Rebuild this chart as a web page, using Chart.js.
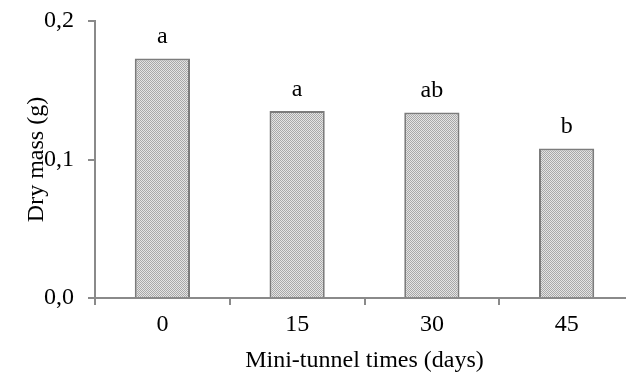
<!DOCTYPE html>
<html>
<head>
<meta charset="utf-8">
<script src="https://cdn.jsdelivr.net/npm/chart.js@4"></script>
<style>
  html, body { margin: 0; padding: 0; background: #fff; overflow: hidden; }
  #wrap { width: 640px; height: 376px; position: relative; }
</style>
</head>
<body>
<div id="wrap"><canvas id="grafik"></canvas></div>
<script>
const kategori = ['0', '15', '30', '45'];
const massaKering = [0.173, 0.135, 0.134, 0.108];
const hurufBeda = ['a', 'a', 'ab', 'b'];
const tickY = [0, 0.1, 0.2];

const warnaSumbu = '#8a8a8a';
const hurufSerif = '"Liberation Serif", "Times New Roman", serif';

// pola titik-titik abu untuk isi batang
function buatPola() {
    const c = document.createElement('canvas');
    c.width = 2; c.height = 2;
    const g = c.getContext('2d');
    g.fillStyle = '#e4e4e4';
    g.fillRect(0, 0, 2, 2);
    g.fillStyle = '#a8a8a8';
    g.fillRect(0, 0, 1, 1);
    g.fillRect(1, 1, 1, 1);
    return g.createPattern(c, 'repeat');
}

const labelHuruf = {
    id: 'labelHuruf',
    afterDatasetsDraw(chart) {
        const ctx = chart.ctx;
        const meta = chart.getDatasetMeta(0);
        ctx.save();
        ctx.fillStyle = '#000';
        ctx.font = '24px ' + hurufSerif;
        ctx.textAlign = 'center';
        ctx.textBaseline = 'alphabetic';
        meta.data.forEach((bar, i) => {
            ctx.fillText(hurufBeda[i], bar.x, bar.y - 15);
        });
        ctx.restore();
    }
};

const ctx = document.getElementById('grafik').getContext('2d');
new Chart(ctx, {
    type: 'bar',
    data: {
        labels: kategori,
        datasets: [{
            data: massaKering,
            backgroundColor: buatPola(),
            borderColor: '#7c7c7c',
            borderWidth: 2,
            borderSkipped: 'bottom',
            categoryPercentage: 1,
            barPercentage: 0.41
        }]
    },
    options: {
        responsive: true,
        maintainAspectRatio: false,
        animation: false,
        layout: { padding: { top: 21, right: 6, left: 0, bottom: 0 } },
        plugins: {
            legend: { display: false },
            tooltip: { enabled: false }
        },
        scales: {
            x: {
                offset: true,
                grid: {
                    offset: true,
                    drawOnChartArea: false,
                    drawTicks: true,
                    tickLength: 7,
                    color: warnaSumbu,
                    lineWidth: 2
                },
                border: { color: warnaSumbu, width: 2 },
                ticks: {
                    color: '#000',
                    font: { family: hurufSerif, size: 24 },
                    padding: 5
                },
                title: {
                    display: true,
                    text: 'Mini-tunnel times (days)',
                    color: '#000',
                    font: { family: hurufSerif, size: 24 },
                    padding: { top: 0, bottom: 1 }
                },
                afterFit(scale) {
                    scale.height = 78;
                    scale.paddingLeft = 0;
                    scale.paddingRight = 0;
                }
            },
            y: {
                min: 0,
                max: 0.2,
                afterBuildTicks(scale) {
                    scale.ticks = tickY.map(v => ({ value: v }));
                },
                grid: {
                    drawOnChartArea: false,
                    drawTicks: true,
                    tickLength: 7,
                    color: warnaSumbu,
                    lineWidth: 2
                },
                border: { color: warnaSumbu, width: 2 },
                ticks: {
                    color: '#000',
                    font: { family: hurufSerif, size: 24 },
                    padding: 14,
                    callback: v => v.toFixed(1).replace('.', ',')
                },
                title: {
                    display: true,
                    text: 'Dry mass (g)',
                    color: '#000',
                    font: { family: hurufSerif, size: 24 },
                    padding: { top: 22, bottom: 0 }
                },
                afterFit(scale) {
                    scale.width = 95;
                    scale.paddingTop = 0;
                    scale.paddingBottom = 0;
                }
            }
        }
    },
    plugins: [labelHuruf]
});
</script>
</body>
</html>
